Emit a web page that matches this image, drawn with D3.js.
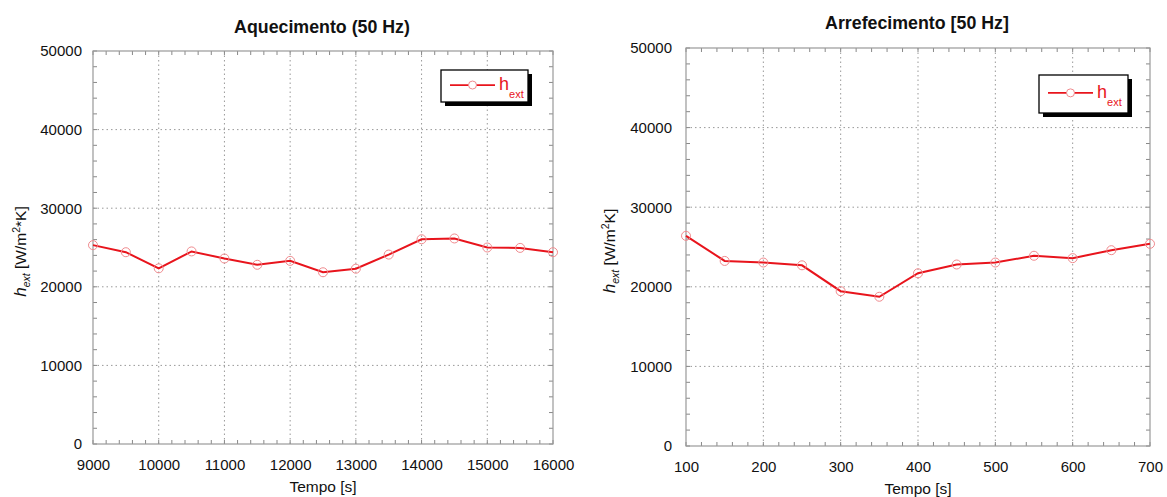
<!DOCTYPE html>
<html>
<head>
<meta charset="utf-8">
<script src="https://cdn.jsdelivr.net/npm/d3@7"></script>
<style>
  body { margin: 0; background: #fff; }
  svg { display: block; font-family: "Liberation Sans", Arial, sans-serif; }
</style>
</head>
<body>
<svg id="chart" width="1167" height="497"></svg>
<script>
// heating run (left panel)
var heatTime = [9000, 9500, 10000, 10500, 11000, 11500, 12000, 12500, 13000, 13500, 14000, 14500, 15000, 15500, 16000];
var heatH = [25300, 24400, 22350, 24500, 23600, 22800, 23300, 21850, 22300, 24100, 26050, 26150, 25000, 24950, 24400];

// cooling run (right panel)
var coolTime = [100, 150, 200, 250, 300, 350, 400, 450, 500, 550, 600, 650, 700];
var coolH = [26400, 23250, 23050, 22700, 19450, 18750, 21700, 22800, 23050, 23900, 23600, 24600, 25400];

var heatXTicks = [9000, 10000, 11000, 12000, 13000, 14000, 15000, 16000];
var coolXTicks = [100, 200, 300, 400, 500, 600, 700];
var yTicks = [0, 10000, 20000, 30000, 40000, 50000];

var svg = d3.select("#chart");
var red = "#e8141c";

function panel(opt) {
  var x = d3.scaleLinear().domain(opt.xDomain).range([opt.left, opt.right]);
  var y = d3.scaleLinear().domain([0, 50000]).range([opt.bottom, opt.top]);
  var g = svg.append("g");

  // grid
  g.selectAll(".gx").data(opt.xTicks.slice(1, -1)).enter().append("line")
    .attr("x1", function(d) { return x(d); }).attr("x2", function(d) { return x(d); })
    .attr("y1", opt.top).attr("y2", opt.bottom)
    .style("stroke", "#999").style("stroke-dasharray", "1.5,3");
  g.selectAll(".gy").data(yTicks.slice(1, -1)).enter().append("line")
    .attr("y1", function(d) { return y(d); }).attr("y2", function(d) { return y(d); })
    .attr("x1", opt.left).attr("x2", opt.right)
    .style("stroke", "#999").style("stroke-dasharray", "1.5,3");

  // minor ticks, inward on all four sides
  var xMinor = d3.range(opt.xDomain[0], opt.xDomain[1] + 1e-9, opt.xMinor);
  var yMinor = d3.range(0, 50001, 2000);
  var tk = "#888";
  g.selectAll(".tb").data(xMinor).enter().append("line")
    .attr("x1", function(d) { return x(d); }).attr("x2", function(d) { return x(d); })
    .attr("y1", opt.bottom).attr("y2", opt.bottom - 4).style("stroke", tk);
  g.selectAll(".tt").data(xMinor).enter().append("line")
    .attr("x1", function(d) { return x(d); }).attr("x2", function(d) { return x(d); })
    .attr("y1", opt.top).attr("y2", opt.top + 4).style("stroke", tk);
  g.selectAll(".tl").data(yMinor).enter().append("line")
    .attr("y1", function(d) { return y(d); }).attr("y2", function(d) { return y(d); })
    .attr("x1", opt.left).attr("x2", opt.left + 4).style("stroke", tk);
  g.selectAll(".tr").data(yMinor).enter().append("line")
    .attr("y1", function(d) { return y(d); }).attr("y2", function(d) { return y(d); })
    .attr("x1", opt.right).attr("x2", opt.right - 4).style("stroke", tk);

  // frame
  g.append("rect")
    .attr("x", opt.left).attr("y", opt.top)
    .attr("width", opt.right - opt.left).attr("height", opt.bottom - opt.top)
    .style("fill", "none").style("stroke", "#999").style("stroke-width", 1.2);

  // axes labels via d3 axes, lines hidden
  var ax = g.append("g").attr("transform", "translate(0," + opt.bottom + ")")
    .call(d3.axisBottom(x).tickValues(opt.xTicks).tickSize(0).tickPadding(15).tickFormat(d3.format("d")));
  var ay = g.append("g").attr("transform", "translate(" + opt.left + ",0)")
    .call(d3.axisLeft(y).tickValues(yTicks).tickSize(0).tickPadding(opt.yPad).tickFormat(d3.format("d")));
  [ax, ay].forEach(function(a) {
    a.select(".domain").remove();
    a.selectAll("text").style("font-size", "15px").style("fill", "#111").style("font-family", "Liberation Sans, Arial, sans-serif");
  });

  // line + markers
  var pts = opt.xs.map(function(d, i) { return [d, opt.ys[i]]; });
  g.append("path").datum(pts)
    .attr("d", d3.line().x(function(d) { return x(d[0]); }).y(function(d) { return y(d[1]); }))
    .style("fill", "none").style("stroke", red).style("stroke-width", 2);
  g.selectAll(".pt").data(pts).enter().append("circle")
    .attr("cx", function(d) { return x(d[0]); }).attr("cy", function(d) { return y(d[1]); })
    .attr("r", 4.5)
    .style("fill", "none").style("stroke", "#f08a8e").style("stroke-width", 1);

  // title
  g.append("text").attr("x", opt.titleX).attr("y", opt.titleY)
    .attr("text-anchor", "middle").style("font-size", "17.8px").style("font-weight", "bold")
    .style("fill", "#111").text(opt.title);

  // x title
  g.append("text").attr("x", (opt.left + opt.right) / 2).attr("y", opt.bottom + 48)
    .attr("text-anchor", "middle").style("font-size", "15.5px").style("fill", "#111").text("Tempo [s]");

  // y title
  var yt = g.append("text")
    .attr("transform", "translate(" + opt.yTitleX + "," + ((opt.top + opt.bottom) / 2 + 4) + ") rotate(-90)")
    .attr("text-anchor", "middle").style("font-size", "15.5px").style("fill", "#111");
  yt.append("tspan").style("font-style", "italic").style("font-size", "17px").text("h");
  yt.append("tspan").style("font-style", "italic").style("font-size", "10.5px").attr("dy", 4).text("ext");
  yt.append("tspan").attr("dy", -4).text(" [W/m");
  yt.append("tspan").style("font-size", "10.5px").attr("dy", -6).text("2");
  yt.append("tspan").attr("dy", 6).text(opt.yUnitTail);

  // legend
  var L = opt.legend;
  g.append("rect").attr("x", L.x + 4).attr("y", L.y + 4).attr("width", L.w).attr("height", L.h).style("fill", "#000");
  g.append("rect").attr("x", L.x).attr("y", L.y).attr("width", L.w).attr("height", L.h)
    .style("fill", "#fff").style("stroke", "#000").style("stroke-width", 1.3);
  var ly = L.y + L.h * 0.47;
  g.append("line").attr("x1", L.x + 9).attr("x2", L.x + 54).attr("y1", ly).attr("y2", ly)
    .style("stroke", red).style("stroke-width", 1.8);
  g.append("circle").attr("cx", L.x + 31.5).attr("cy", ly).attr("r", 4)
    .style("fill", "#fff").style("stroke", "#f08a8e");
  var lt = g.append("text").attr("x", L.x + 58).attr("y", ly + 5).style("fill", red).style("font-size", "18px");
  lt.append("tspan").text("h");
  lt.append("tspan").attr("dy", 8).style("font-size", "11px").text("ext");
}

panel({
  xDomain: [9000, 16000], xMinor: 200, xTicks: heatXTicks,
  left: 93, right: 553, top: 51, bottom: 444,
  xs: heatTime, ys: heatH,
  title: "Aquecimento (50 Hz)", titleX: 322, titleY: 33,
  yPad: 11, yTitleX: 26, yUnitTail: "*K]",
  legend: { x: 441, y: 70, w: 87, h: 32 }
});

panel({
  xDomain: [100, 700], xMinor: 20, xTicks: coolXTicks,
  left: 686, right: 1150, top: 48, bottom: 446,
  xs: coolTime, ys: coolH,
  title: "Arrefecimento [50 Hz]", titleX: 917, titleY: 29,
  yPad: 14, yTitleX: 615, yUnitTail: "K]",
  legend: { x: 1039, y: 75, w: 89, h: 38 }
});
</script>
</body>
</html>
